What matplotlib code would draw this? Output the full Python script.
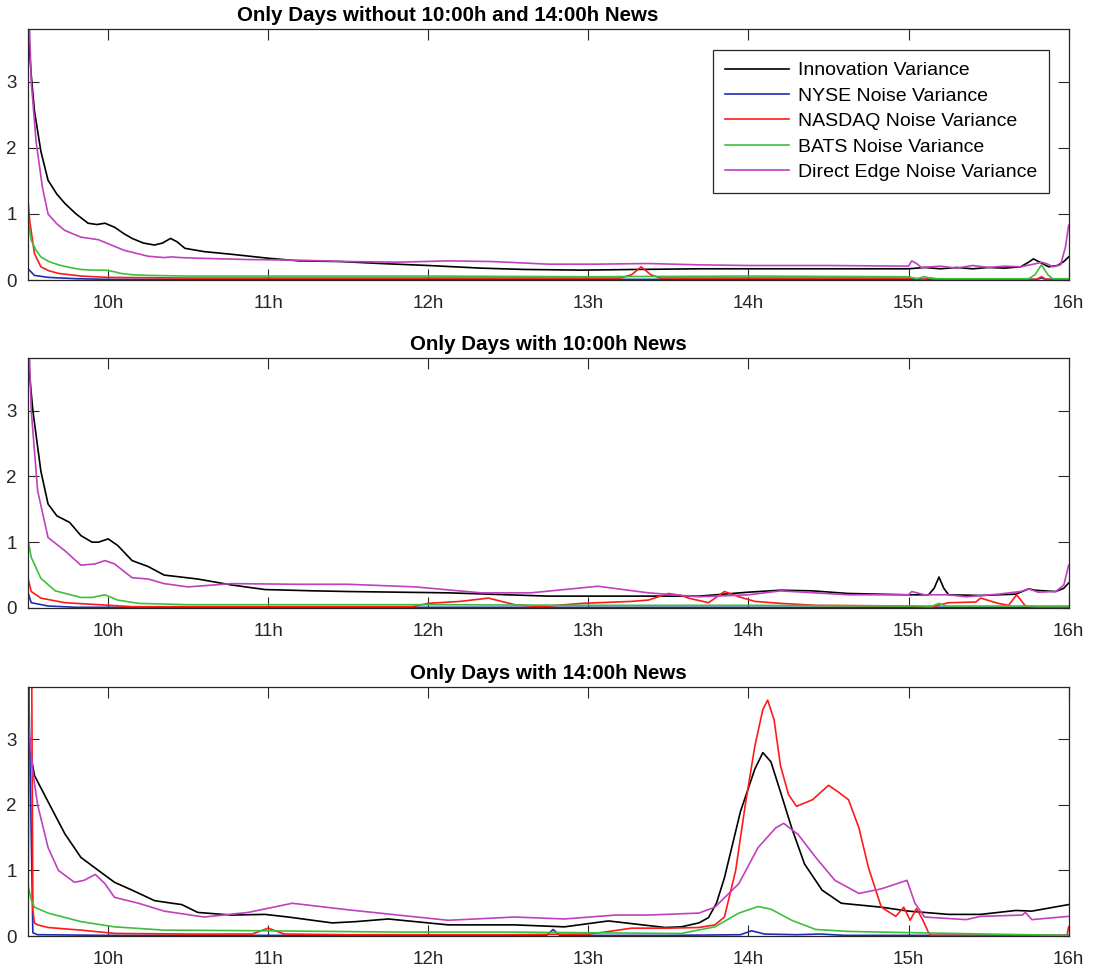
import matplotlib
matplotlib.use("Agg")
import matplotlib.pyplot as plt

plt.rcParams['font.family'] = ['Liberation Sans', 'DejaVu Sans']

# ---- data (hours of day, variance) ----
series_names = ["Innovation Variance", "NYSE Noise Variance", "NASDAQ Noise Variance",
                "BATS Noise Variance", "Direct Edge Noise Variance"]
series_colors = ["#000000", "#1a2fb0", "#ff1a1a", "#3cc03c", "#c040c0"]
titles = ["Only Days without 10:00h and 14:00h News",
          "Only Days with 10:00h News",
          "Only Days with 14:00h News"]
hour_ticks = [10, 11, 12, 13, 14, 15, 16]
hour_labels = ["10h", "11h", "12h", "13h", "14h", "15h", "16h"]

# panel 1: no news days
inn1_t = [9.5, 9.52, 9.54, 9.58, 9.625, 9.68, 9.73, 9.8, 9.875, 9.93, 9.98, 10.04, 10.1, 10.15,
          10.22, 10.29, 10.34, 10.39, 10.43, 10.48, 10.6, 10.77, 11.0, 11.19, 11.45, 11.7, 12.0,
          12.33, 12.6, 12.96, 13.3, 13.69, 14.0, 14.5, 15.0, 15.1, 15.2, 15.3, 15.4, 15.5, 15.6,
          15.7, 15.75, 15.78, 15.82, 15.875, 15.93, 15.97, 16.0]
inn1_v = [3.8, 3.1, 2.56, 1.95, 1.51, 1.3, 1.16, 1.0, 0.86, 0.84, 0.86, 0.8, 0.7, 0.63,
          0.56, 0.53, 0.56, 0.63, 0.58, 0.48, 0.43, 0.39, 0.33, 0.29, 0.28, 0.25, 0.22,
          0.18, 0.16, 0.15, 0.16, 0.17, 0.17, 0.17, 0.17, 0.19, 0.17, 0.19, 0.17, 0.19, 0.18,
          0.2, 0.27, 0.32, 0.27, 0.2, 0.22, 0.28, 0.35]
nyse1_t = [9.5, 9.54, 9.625, 9.8, 10.0, 15.8, 15.83, 15.86, 16.0]
nyse1_v = [0.17, 0.07, 0.04, 0.02, 0.01, 0.01, 0.03, 0.01, 0.01]
nasd1_t = [9.5, 9.51, 9.54, 9.58, 9.63, 9.69, 9.83, 10.0, 10.5, 11.0, 12.0, 12.8, 13.2, 13.27,
           13.33, 13.39, 13.45, 14.0, 15.0, 15.1, 15.14, 15.2, 15.5, 15.8, 15.83, 15.86, 16.0]
nasd1_v = [1.2, 0.9, 0.4, 0.2, 0.14, 0.1, 0.06, 0.04, 0.03, 0.03, 0.03, 0.03, 0.03, 0.08,
           0.2, 0.08, 0.03, 0.03, 0.03, 0.01, 0.03, 0.01, 0.01, 0.01, 0.05, 0.01, 0.01]
bats1_t = [9.5, 9.52, 9.55, 9.58, 9.63, 9.69, 9.76, 9.83, 9.9, 9.98, 10.03, 10.08, 10.15, 10.25,
           10.5, 11.0, 12.0, 13.0, 14.0, 15.0, 15.05, 15.1, 15.15, 15.3, 15.5, 15.75, 15.79,
           15.83, 15.87, 15.9, 16.0]
bats1_v = [0.9, 0.6, 0.45, 0.35, 0.28, 0.23, 0.19, 0.16, 0.15, 0.15, 0.13, 0.1, 0.08, 0.07,
           0.06, 0.06, 0.06, 0.05, 0.06, 0.05, 0.02, 0.05, 0.02, 0.02, 0.02, 0.02, 0.08,
           0.23, 0.08, 0.02, 0.02]
edge1_t = [9.5, 9.52, 9.55, 9.59, 9.625, 9.68, 9.73, 9.83, 9.94, 10.0, 10.1, 10.25, 10.35, 10.4,
           10.45, 10.56, 10.875, 11.19, 11.5, 11.81, 12.125, 12.4, 12.75, 13.05, 13.375, 13.69,
           14.0, 14.5, 15.0, 15.02, 15.05, 15.08, 15.2, 15.3, 15.4, 15.5, 15.6, 15.7, 15.8,
           15.83, 15.87, 15.9, 15.95, 15.98, 16.0]
edge1_v = [4.5, 3.0, 2.1, 1.4, 1.0, 0.85, 0.75, 0.65, 0.61, 0.55, 0.45, 0.36, 0.34, 0.35,
           0.34, 0.33, 0.31, 0.3, 0.28, 0.27, 0.29, 0.28, 0.24, 0.24, 0.25, 0.23,
           0.22, 0.22, 0.21, 0.29, 0.25, 0.19, 0.21, 0.18, 0.22, 0.19, 0.21, 0.2, 0.25,
           0.27, 0.24, 0.2, 0.23, 0.5, 0.83]

# panel 2: 10:00h news days
inn2_t = [9.5, 9.53, 9.58, 9.625, 9.68, 9.72, 9.76, 9.83, 9.9, 9.94, 10.0, 10.06, 10.15, 10.25,
          10.35, 10.56, 10.77, 10.98, 11.29, 11.5, 11.81, 12.125, 12.75, 13.375, 13.69, 14.0,
          14.2, 14.4, 14.625, 15.0, 15.125, 15.16, 15.19, 15.22, 15.25, 15.45, 15.67, 15.75,
          15.79, 15.85, 15.92, 15.97, 16.0]
inn2_v = [3.8, 3.0, 2.08, 1.58, 1.4, 1.35, 1.3, 1.1, 1.0, 1.0, 1.05, 0.95, 0.72, 0.63,
          0.5, 0.44, 0.35, 0.28, 0.26, 0.25, 0.24, 0.23, 0.18, 0.18, 0.18, 0.24,
          0.27, 0.26, 0.22, 0.2, 0.2, 0.3, 0.47, 0.3, 0.2, 0.19, 0.21, 0.29,
          0.27, 0.26, 0.25, 0.3, 0.38]
nyse2_t = [9.5, 9.52, 9.625, 9.8, 16.0]
nyse2_v = [0.23, 0.08, 0.03, 0.01, 0.01]
nasd2_t = [9.5, 9.52, 9.58, 9.73, 9.94, 10.15, 11.0, 11.9, 12.0, 12.2, 12.375, 12.54, 12.7,
           12.96, 13.27, 13.375, 13.5, 13.58, 13.625, 13.75, 13.85, 13.94, 14.04, 14.2, 14.42,
           15.0, 15.14, 15.25, 15.42, 15.45, 15.56, 15.625, 15.675, 15.73, 15.8, 16.0]
nasd2_v = [0.45, 0.25, 0.15, 0.08, 0.05, 0.02, 0.02, 0.02, 0.07, 0.1, 0.15, 0.05, 0.02,
           0.07, 0.1, 0.12, 0.22, 0.19, 0.15, 0.08, 0.25, 0.17, 0.1, 0.07, 0.04,
           0.03, 0.01, 0.08, 0.09, 0.15, 0.07, 0.04, 0.2, 0.03, 0.01, 0.01]
bats2_t = [9.5, 9.52, 9.58, 9.67, 9.83, 9.9, 9.98, 10.06, 10.19, 10.5, 12.0, 13.0, 14.0, 15.0,
           15.15, 15.19, 15.23, 16.0]
bats2_v = [1.03, 0.77, 0.45, 0.26, 0.16, 0.16, 0.2, 0.12, 0.07, 0.05, 0.05, 0.04, 0.04, 0.03,
           0.03, 0.07, 0.03, 0.03]
edge2_t = [9.5, 9.52, 9.56, 9.625, 9.73, 9.83, 9.92, 9.98, 10.04, 10.15, 10.25, 10.35, 10.5,
           10.77, 11.19, 11.5, 11.92, 12.33, 12.64, 13.06, 13.375, 13.69, 14.0, 14.2, 14.625,
           15.0, 15.02, 15.1, 15.25, 15.36, 15.56, 15.7, 15.75, 15.81, 15.92, 15.97, 16.0]
edge2_v = [4.5, 3.0, 1.78, 1.07, 0.87, 0.65, 0.67, 0.72, 0.67, 0.46, 0.44, 0.37, 0.32,
           0.37, 0.36, 0.36, 0.32, 0.23, 0.23, 0.33, 0.23, 0.17, 0.2, 0.26, 0.2,
           0.2, 0.25, 0.2, 0.2, 0.17, 0.21, 0.25, 0.29, 0.24, 0.25, 0.35, 0.65]

# panel 3: 14:00h news days
inn3_t = [9.5, 9.54, 9.625, 9.73, 9.83, 9.94, 10.04, 10.15, 10.29, 10.4, 10.46, 10.56, 10.77,
          10.98, 11.125, 11.4, 11.55, 11.75, 12.125, 12.54, 12.85, 13.125, 13.48, 13.58, 13.69,
          13.75, 13.8, 13.85, 13.95, 14.04, 14.09, 14.14, 14.2, 14.27, 14.35, 14.46, 14.58,
          14.83, 15.0, 15.25, 15.45, 15.67, 15.77, 16.0]
inn3_v = [3.0, 2.45, 2.05, 1.56, 1.2, 1.0, 0.82, 0.7, 0.54, 0.5, 0.48, 0.36, 0.32,
          0.33, 0.29, 0.2, 0.22, 0.26, 0.17, 0.17, 0.14, 0.23, 0.13, 0.14, 0.2,
          0.28, 0.5, 0.89, 1.9, 2.55, 2.8, 2.66, 2.2, 1.65, 1.1, 0.7, 0.5,
          0.44, 0.38, 0.33, 0.33, 0.39, 0.38, 0.48]
nyse3_t = [9.5, 9.53, 9.56, 10.0, 12.74, 12.78, 12.82, 13.5, 13.95, 14.02, 14.1, 14.3, 14.45,
           14.6, 16.0]
nyse3_v = [4.5, 0.05, 0.02, 0.01, 0.01, 0.1, 0.01, 0.01, 0.02, 0.08, 0.03, 0.02, 0.03,
           0.01, 0.01]
nasd3_t = [9.5, 9.515, 9.53, 9.54, 9.56, 9.625, 9.83, 10.04, 10.5, 10.9, 11.0, 11.1, 11.5,
           12.5, 13.0, 13.1, 13.27, 13.5, 13.69, 13.79, 13.85, 13.92, 13.98, 14.04, 14.09, 14.12,
           14.16, 14.2, 14.25, 14.3, 14.4, 14.5, 14.56, 14.625, 14.69, 14.75, 14.83, 14.92,
           14.97, 15.01, 15.05, 15.09, 15.125, 15.14, 15.5, 15.99, 16.0]
nasd3_v = [0.3, 8.0, 0.4, 0.2, 0.17, 0.13, 0.09, 0.04, 0.03, 0.03, 0.12, 0.03, 0.02,
           0.02, 0.03, 0.06, 0.12, 0.12, 0.13, 0.17, 0.29, 1.0, 2.0, 2.9, 3.46, 3.6,
           3.3, 2.6, 2.16, 1.98, 2.08, 2.3, 2.2, 2.08, 1.65, 1.04, 0.44, 0.3,
           0.44, 0.24, 0.42, 0.24, 0.05, 0.01, 0.01, 0.01, 0.14]
bats3_t = [9.5, 9.52, 9.54, 9.625, 9.83, 10.04, 10.35, 10.98, 11.81, 12.5, 13.0, 13.5, 13.58,
           13.79, 13.94, 14.06, 14.14, 14.27, 14.42, 14.625, 15.04, 15.5, 16.0]
bats3_v = [0.77, 0.55, 0.44, 0.35, 0.22, 0.14, 0.09, 0.08, 0.06, 0.06, 0.05, 0.04, 0.04,
           0.14, 0.35, 0.45, 0.41, 0.24, 0.1, 0.07, 0.05, 0.03, 0.01]
edge3_t = [9.5, 9.53, 9.56, 9.625, 9.69, 9.79, 9.85, 9.92, 9.98, 10.04, 10.19, 10.35, 10.6,
           10.875, 11.15, 11.5, 11.81, 12.125, 12.54, 12.85, 13.17, 13.375, 13.69, 13.79,
           13.94, 14.06, 14.17, 14.22, 14.31, 14.42, 14.54, 14.69, 14.83, 14.99, 15.04, 15.1,
           15.36, 15.45, 15.71, 15.73, 15.77, 16.0]
edge3_v = [3.34, 2.5, 2.0, 1.35, 1.0, 0.82, 0.85, 0.94, 0.8, 0.59, 0.5, 0.38, 0.29,
           0.36, 0.5, 0.4, 0.32, 0.24, 0.29, 0.26, 0.32, 0.32, 0.35, 0.44,
           0.8, 1.35, 1.65, 1.72, 1.55, 1.2, 0.85, 0.65, 0.72, 0.85, 0.5, 0.29,
           0.25, 0.3, 0.32, 0.36, 0.25, 0.3]

panels = [
    [(inn1_t, inn1_v), (nyse1_t, nyse1_v), (nasd1_t, nasd1_v), (bats1_t, bats1_v), (edge1_t, edge1_v)],
    [(inn2_t, inn2_v), (nyse2_t, nyse2_v), (nasd2_t, nasd2_v), (bats2_t, bats2_v), (edge2_t, edge2_v)],
    [(inn3_t, inn3_v), (nyse3_t, nyse3_v), (nasd3_t, nasd3_v), (bats3_t, bats3_v), (edge3_t, edge3_v)],
]

fig = plt.figure(figsize=(11, 9.74), dpi=100)
# axes boxes (left, bottom, width, height) in figure fractions
boxes = [(0.0255, 0.7125, 0.946, 0.2577),
         (0.0255, 0.3758, 0.946, 0.2567),
         (0.0255, 0.0390, 0.946, 0.2556)]
# the first title sits left of centre in the original
title_x = [0.4035, 0.5, 0.5]

for i, box in enumerate(boxes):
    ax = fig.add_axes(box)
    for (t, v), name, col in zip(panels[i], series_names, series_colors):
        ax.plot(t, v, color=col, lw=1.2, label=name)
    ax.set_xlim(9.5, 16)
    ax.set_ylim(0, 3.8)
    ax.set_xticks(hour_ticks)
    ax.set_xticklabels(hour_labels)
    ax.set_yticks([0, 1, 2, 3])
    ax.tick_params(direction="in", top=True, right=True, length=8, width=0.8,
                   labelsize=13.5, colors="#262626")
    ax.tick_params(axis="x", pad=11)
    ax.tick_params(axis="y", pad=8)
    for s in ax.spines.values():
        s.set_color("#262626")
        s.set_linewidth(0.9)
    ax.set_title(titles[i], fontsize=14.8, fontweight="bold", pad=6, x=title_x[i])
    if i == 0:
        leg = ax.legend(loc="upper right", bbox_to_anchor=(0.981, 0.916), fontsize=14,
                        fancybox=False, edgecolor="#262626", framealpha=1,
                        handlelength=3.3, handletextpad=0.45, borderaxespad=0,
                        labelspacing=0.4, borderpad=0.6)
        leg.get_frame().set_linewidth(0.9)

fig.savefig("out.png", dpi=100)
